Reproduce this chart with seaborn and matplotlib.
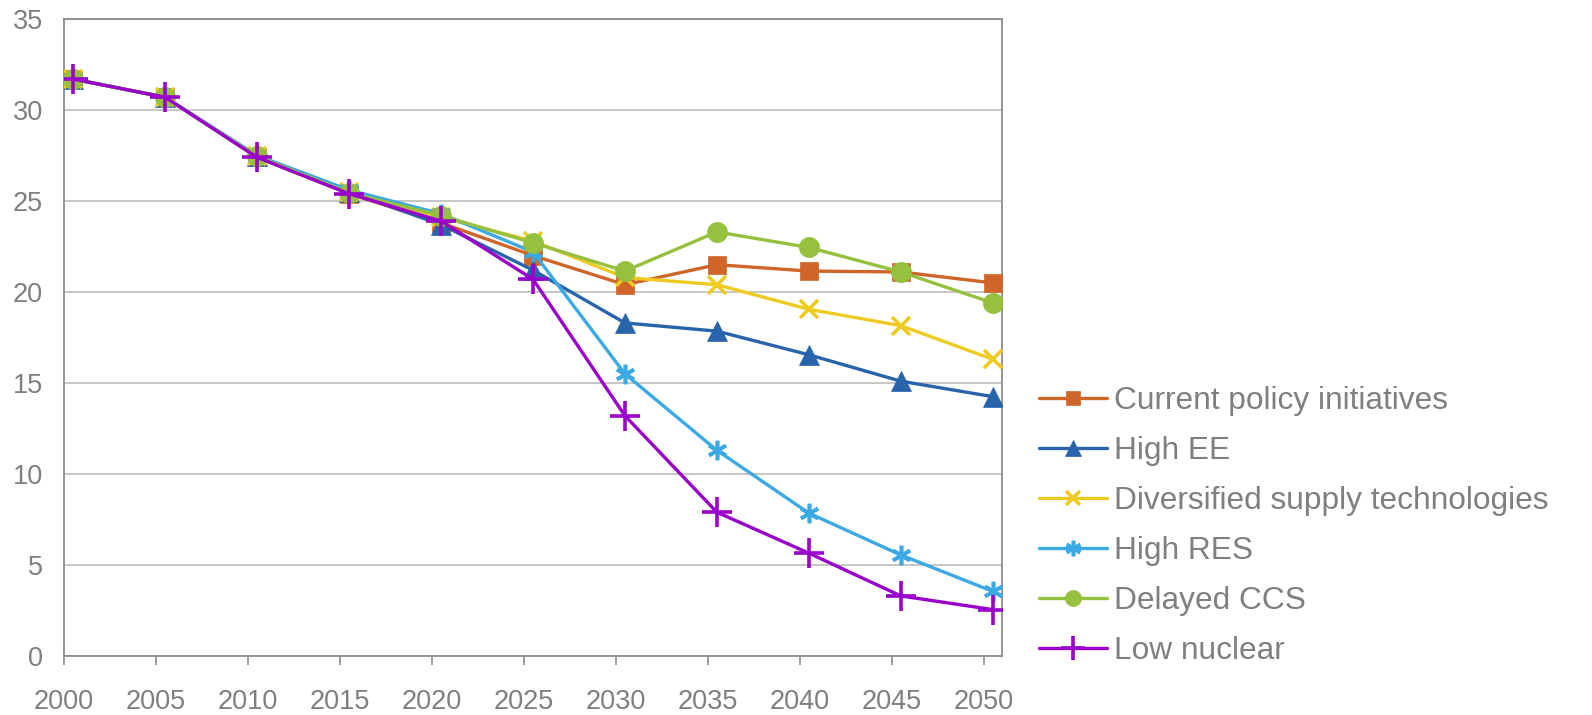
import numpy as np
import pandas as pd
import matplotlib
matplotlib.use("Agg")
import matplotlib.pyplot as plt
import seaborn as sns

years = [2000, 2005, 2010, 2015, 2020, 2025, 2030, 2035, 2040, 2045, 2050]

current_policy = [31.7, 30.7, 27.4, 25.4, 23.8, 22.0, 20.4, 21.5, 21.15, 21.1, 20.5]
high_ee = [31.7, 30.7, 27.45, 25.5, 23.7, 21.2, 18.3, 17.85, 16.55, 15.1, 14.25]
diversified = [31.7, 30.7, 27.45, 25.5, 24.1, 22.8, 20.8, 20.4, 19.05, 18.15, 16.3]
high_res = [31.7, 30.7, 27.5, 25.6, 24.3, 22.2, 15.5, 11.3, 7.85, 5.55, 3.55]
delayed_ccs = [31.7, 30.7, 27.45, 25.45, 24.2, 22.7, 21.15, 23.3, 22.45, 21.1, 19.4]
low_nuclear = [31.7, 30.7, 27.4, 25.4, 23.9, 20.7, 13.2, 7.9, 5.65, 3.3, 2.55]

scenario_names = [
    "Current policy initiatives",
    "High EE",
    "Diversified supply technologies",
    "High RES",
    "Delayed CCS",
    "Low nuclear",
]
scenario_values = [current_policy, high_ee, diversified, high_res, delayed_ccs, low_nuclear]

colors = ["#D0652A", "#2863AC", "#EFCB22", "#3BA9E3", "#96C13E", "#9A00CC"]
# (marker, size, edge width, filled)
marker_styles = [
    ("s", 13, 0.5, True),
    ("^", 14, 0.5, True),
    ("x", 13, 2.6, False),
    ((6, 2, 0), 14, 2.6, False),
    ("o", 14.5, 0.5, True),
    ("+", 22, 2.6, False),
]

frames = []
for name, vals in zip(scenario_names, scenario_values):
    frames.append(pd.DataFrame({"year": years, "value": vals, "scenario": name}))
df = pd.concat(frames, ignore_index=True)

sns.set_style("white")
plt.rcParams["font.family"] = ["Liberation Sans", "DejaVu Sans"]
text_gray = "#7F7F7F"

fig = plt.figure(figsize=(15.92, 7.15), dpi=100)
ax = fig.add_axes([64 / 1592, 59 / 715, (1002 - 64) / 1592, (656 - 19) / 715])

for i, name in enumerate(scenario_names):
    mk, ms, mew, filled = marker_styles[i]
    sub = df[df["scenario"] == name]
    kw = dict(marker=mk, markersize=ms, markeredgewidth=mew,
              markeredgecolor=colors[i])
    if filled:
        kw["markerfacecolor"] = colors[i]
    sns.lineplot(data=sub, x="year", y="value", ax=ax, color=colors[i],
                 linewidth=2.4, label=name, zorder=3 + i, **kw)

ax.set_xlim(years[0] - 0.5, years[-1] + 0.5)
ax.set_ylim(0, 35)
ax.set_xticks([y - 0.5 for y in years])
ax.set_xticklabels([str(y) for y in years])
ax.set_yticks(np.arange(0, 36, 5))
ax.set_xlabel("")
ax.set_ylabel("")

ax.grid(axis="y", color="#C6C6C6", linewidth=1.4)
ax.grid(axis="x", visible=False)
ax.set_axisbelow(True)
for sp in ax.spines.values():
    sp.set_visible(True)
    sp.set_color("#8C8C8C")
    sp.set_linewidth(1.3)

ax.tick_params(axis="x", direction="out", length=6.5, width=1.2, color="#8C8C8C",
               labelsize=19.5, labelcolor=text_gray, pad=17, bottom=True)
ax.tick_params(axis="y", length=0, labelsize=19.5, labelcolor=text_gray, pad=15)

handles, labels = ax.get_legend_handles_labels()
leg = ax.legend(handles, labels, loc="center left", frameon=False, fontsize=22.8,
                labelcolor=text_gray, handlelength=2.15, handletextpad=0.22,
                labelspacing=0.63, markerscale=0.8, borderaxespad=0)
leg.set_bbox_to_anchor((1031 / 1592 - 0.003, (715 - 526) / 715), transform=fig.transFigure)

fig.savefig("out.png", dpi=100)
